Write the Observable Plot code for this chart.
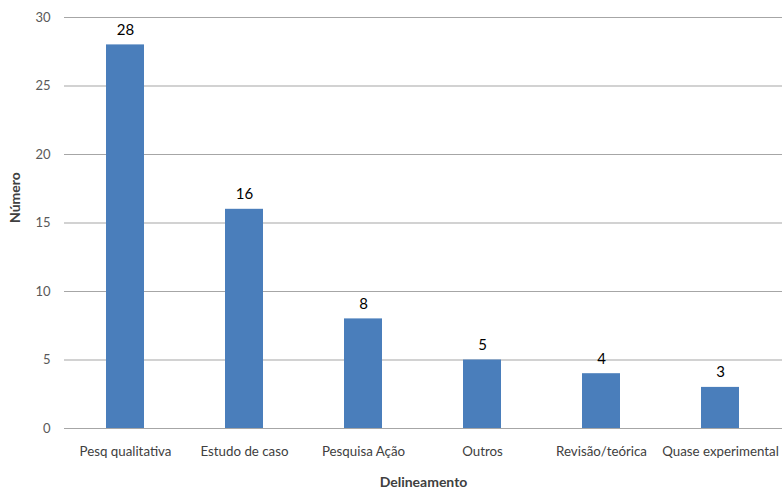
<!DOCTYPE html>
<html><head><meta charset="utf-8">
<script src="https://cdn.jsdelivr.net/npm/d3@7"></script>
<script src="https://cdn.jsdelivr.net/npm/@observablehq/plot@0.6"></script>
<style>body{margin:0;background:#fff;} svg{display:block;}</style>
</head><body><div id="chart"></div>
<script>
const categories = ["Pesq qualitativa","Estudo de caso","Pesquisa Ação","Outros","Revisão/teórica","Quase experimental"];
const values = [28,16,8,5,4,3];
const yTicks = [0,5,10,15,20,25,30];
const data = categories.map((c,i)=>({cat:c, value:values[i]}));
const font = "Lato, 'Open Sans', sans-serif";
const chart = Plot.plot({
  width: 782, height: 491,
  marginLeft: 64, marginRight: 0, marginTop: 17, marginBottom: 63,
  style: {fontFamily: font, fontSize: "13px", background: "#fff"},
  x: {domain: categories, paddingInner: 0.68, paddingOuter: 0.34, label: null},
  y: {domain: [0,30], label: null},
  marks: [
    Plot.ruleY(yTicks, {stroke: "#a6a6a6", strokeWidth: 1.2}),
    Plot.barY(data, {x: "cat", y: "value", fill: "#4a7ebb"}),
    Plot.text(data, {x: "cat", y: "value", text: d=>String(d.value), dy: -15, fontSize: 15, fill: "#000"}),
    Plot.axisY(yTicks, {tickSize: 0, tickPadding: 14, fontSize: 13, color: "#595959", label: null}),
    Plot.axisX({tickSize: 0, tickPadding: 18, fontSize: 13.3, color: "#404040", label: null}),
    Plot.text(["Delineamento"], {frameAnchor: "bottom", dy: 58, fontWeight: "bold", fontSize: 14, fill: "#404040"}),
    Plot.text(["Número"], {frameAnchor: "left", dx: -49, rotate: -90, fontWeight: "bold", fontSize: 14, fill: "#404040"})
  ]
});
document.getElementById("chart").append(chart);
</script></body></html>
